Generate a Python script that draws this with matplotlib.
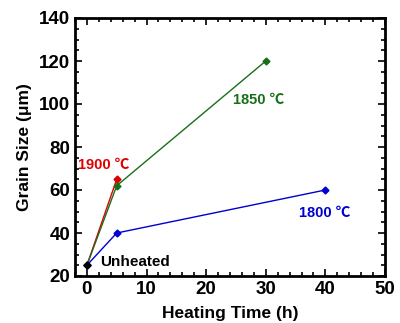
import matplotlib
matplotlib.use("Agg")
import matplotlib.pyplot as plt
from matplotlib.ticker import MultipleLocator

plt.rcParams['font.family'] = ['Liberation Sans', 'Noto Sans CJK SC', 'DejaVu Sans']
plt.rcParams['font.weight'] = 'bold'

t_1900 = [0, 5]
g_1900 = [25, 65]
t_1850 = [0, 5, 30]
g_1850 = [25, 62, 120]
t_1800 = [0, 5, 40]
g_1800 = [25, 40, 60]
t_unheated = [0]
g_unheated = [25]

fig = plt.figure(figsize=(4.0, 3.23), dpi=100)
ax = fig.add_axes([75/400, 1-276/323, 310/400, 258/323])

red = '#e00000'
green = '#1a6e1a'
blue = '#0000d0'
ax.plot(t_1900, g_1900, color=red, lw=1, marker='D', ms=3.5)
ax.plot(t_1850, g_1850, color=green, lw=1, marker='D', ms=3.5)
ax.plot(t_1800, g_1800, color=blue, lw=1, marker='D', ms=3.5)
ax.plot(t_unheated, g_unheated, color='black', lw=0, marker='D', ms=3.5)

ax.set_xlim(-2, 50)
ax.set_ylim(20, 140)
ax.xaxis.set_major_locator(MultipleLocator(10))
ax.xaxis.set_minor_locator(MultipleLocator(2))
ax.yaxis.set_major_locator(MultipleLocator(20))
ax.yaxis.set_minor_locator(MultipleLocator(5))
ax.tick_params(which='both', direction='in', top=True, right=True, labelsize=13.5, width=1.2)
ax.tick_params(which='major', length=5)
ax.tick_params(which='minor', length=3)
for s in ax.spines.values():
    s.set_linewidth(2)
for lab in ax.get_xticklabels() + ax.get_yticklabels():
    lab.set_fontweight('bold')

ax.set_xlabel('Heating Time (h)', fontsize=12.5, fontweight='bold', labelpad=6)
ax.set_ylabel('Grain Size (μm)', fontsize=12.5, fontweight='bold', labelpad=5)

ax.text(-1.5, 71.5, '1900 ℃', color=red, fontsize=10.5, fontweight='bold', ha='left', va='center')
ax.text(24.5, 102, '1850 ℃', color=green, fontsize=10.5, fontweight='bold', ha='left', va='center')
ax.text(35.5, 49.5, '1800 ℃', color=blue, fontsize=10.5, fontweight='bold', ha='left', va='center')
ax.text(2.2, 26.5, 'Unheated', color='black', fontsize=11, fontweight='bold', ha='left', va='center')

fig.savefig('out.png', dpi=100)
